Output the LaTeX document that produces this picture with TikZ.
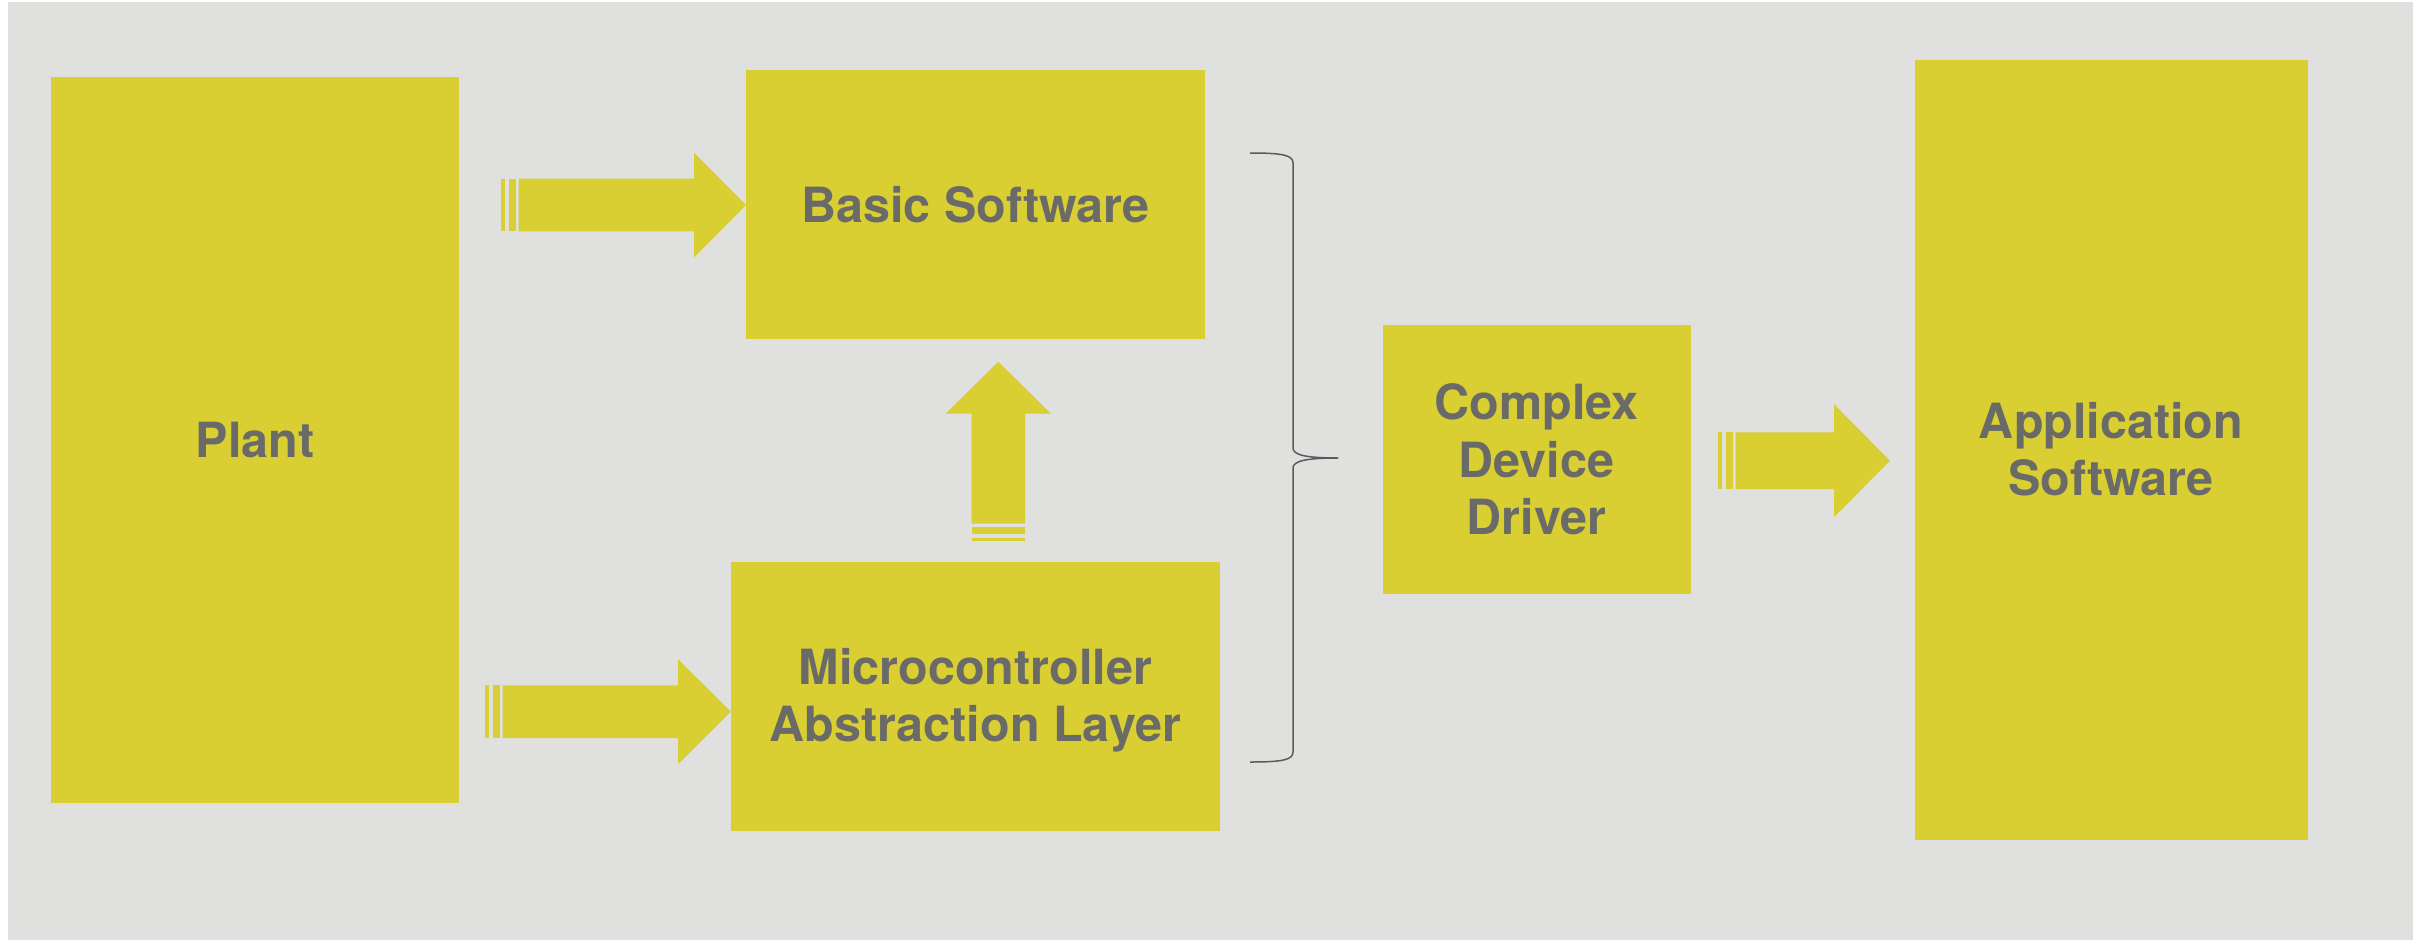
\documentclass[tikz,border=0pt]{standalone}
\usepackage{fontspec}
\setmainfont{TeX Gyre Heros}
\definecolor{ylw}{RGB}{217,207,51}
\definecolor{bggrey}{RGB}{224,224,222}
\definecolor{txtgrey}{RGB}{106,106,104}
\definecolor{bracegrey}{RGB}{90,90,90}
\newcommand{\blkarrow}[7]{% tail x, tail y, rotation, length, head length, body half, head half
\begin{scope}[shift={(#1,#2)},rotate=#3]
 \fill[ylw] (0,-#6) rectangle (3.5,#6);
 \fill[ylw] (7.5,-#6) rectangle (14.5,#6);
 \fill[ylw] (17.5,-#6) -- ({#4-#5},-#6) -- ({#4-#5},-#7) -- (#4,0) -- ({#4-#5},#7) -- ({#4-#5},#6) -- (17.5,#6) -- cycle;
\end{scope}}
\tikzset{
  box/.style={fill=ylw, draw=none, inner sep=0pt},
  lbl/.style={inner sep=0pt, align=center,
    text=txtgrey, font=\bfseries\fontsize{48.5}{57.5}\selectfont},
  bracepath/.style={draw=bracegrey, line width=1.5pt}
}
\begin{document}
\begin{tikzpicture}[x=1pt,y=-1pt]
\useasboundingbox (0,0) rectangle (2425,940);
\fill[white] (0,0) rectangle (2425,940);
\fill[bggrey] (8,2) rectangle (2413,940);

\node[box, minimum width=408pt, minimum height=726pt] (plant) at (255,440) {};
\node[box, minimum width=459pt, minimum height=269pt] (bsw) at (975.5,204.5) {};
\node[box, minimum width=489pt, minimum height=269pt] (mcal) at (975.5,696) {};
\node[box, minimum width=308pt, minimum height=269pt] (cdd) at (1536.5,459.4) {};
\node[box, minimum width=393pt, minimum height=780pt] (asw) at (2111,450) {};

\node[lbl] (plantlbl) at (plant.center) {Plant};
\node[lbl] (bswlbl) at (bsw.center) {Basic Software};
\node[lbl] (mcallbl) at ([yshift=-4pt]mcal.center) {Microcontroller\\Abstraction Layer};
\node[lbl] (cddlbl) at (cdd.center) {Complex\\Device\\Driver};
\node[lbl] (aswlbl) at ([yshift=1pt]asw.center) {Application\\Software};

% block arrows
\blkarrow{501}{205}{0}{245}{52}{26.3}{52.5}
\blkarrow{485}{711.7}{0}{246}{53}{26.3}{52.5}
\blkarrow{1718}{460.7}{0}{172}{56}{28.3}{56.5}
\blkarrow{998.3}{541}{90}{179.3}{52}{26.7}{52.7}

% brace
\coordinate (bt) at (1250,153);
\coordinate (bb) at (1250,762);
\coordinate (btip) at (1338,458);
\draw[bracepath] (bt) .. controls (1282,153) and (1293,155) .. (1293,163)
  -- (1293,448) .. controls (1293,455) and (1306,458) .. (btip);
\draw[bracepath] (btip) .. controls (1306,458) and (1293,461) .. (1293,468)
  -- (1293,752) .. controls (1293,760) and (1282,762) .. (bb);
\end{tikzpicture}
\end{document}
